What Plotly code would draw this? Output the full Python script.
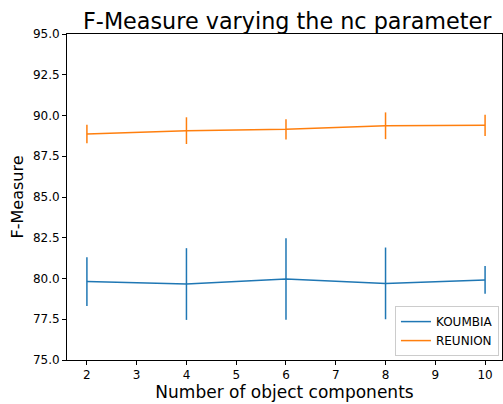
import plotly.graph_objects as go

nc = [2, 4, 6, 8, 10]
koumbia = [79.81, 79.66, 79.97, 79.70, 79.91]
koumbia_err = [1.5, 2.2, 2.5, 2.2, 0.85]
reunion = [88.87, 89.07, 89.15, 89.37, 89.40]
reunion_err = [0.57, 0.82, 0.62, 0.82, 0.65]

x_ticks = [2, 3, 4, 5, 6, 7, 8, 9, 10]
y_ticks = [75.0, 77.5, 80.0, 82.5, 85.0, 87.5, 90.0, 92.5, 95.0]

fig = go.Figure()
fig.add_trace(go.Scatter(x=nc, y=koumbia, mode="lines", name="KOUMBIA",
                         line=dict(color="#1f77b4", width=1.5),
                         error_y=dict(type="data", array=koumbia_err, width=0,
                                      thickness=1.5, color="#1f77b4")))
fig.add_trace(go.Scatter(x=nc, y=reunion, mode="lines", name="REUNION",
                         line=dict(color="#ff7f0e", width=1.5),
                         error_y=dict(type="data", array=reunion_err, width=0,
                                      thickness=1.5, color="#ff7f0e")))

axis_common = dict(showgrid=False, zeroline=False, showline=True, linecolor="black",
                   linewidth=1, mirror=True, ticks="outside", ticklen=4,
                   tickcolor="black", tickfont=dict(size=12, color="black",
                                                    family="DejaVu Sans"))
fig.update_layout(
    width=503, height=404,
    margin=dict(l=67, r=1, t=34, b=44),
    paper_bgcolor="white", plot_bgcolor="white",
    font=dict(family="DejaVu Sans", color="black"),
    title=dict(text="F-Measure varying the nc parameter", x=0.571, xanchor="center",
               y=0.948, yanchor="middle", font=dict(size=22.3, color="black")),
    xaxis=dict(range=[1.6, 10.34], tickvals=x_ticks, ticktext=[str(t) for t in x_ticks],
               title=dict(text="Number of object components", font=dict(size=17), standoff=3),
               **axis_common),
    yaxis=dict(range=[75, 95], tickvals=y_ticks, ticktext=[f"{t:.1f}" for t in y_ticks],
               title=dict(text="F-Measure", font=dict(size=16), standoff=5),
               **axis_common),
    legend=dict(x=0.993, y=0.012, xanchor="right", yanchor="bottom",
                bordercolor="#cccccc", borderwidth=1, bgcolor="rgba(255,255,255,0.8)",
                font=dict(size=12, color="black")),
    showlegend=True,
)

fig.write_html("out.html", config={"displayModeBar": False},
               post_script="document.body.style.margin='0';document.body.style.overflow='hidden';")
